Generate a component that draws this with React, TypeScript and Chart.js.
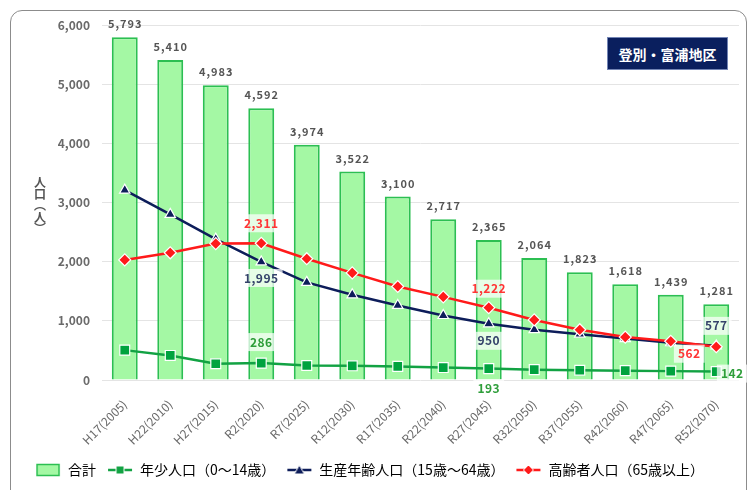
import React, { useEffect, useRef } from "react";
import { Chart, registerables } from "chart.js";

Chart.register(...registerables);

const categories = [
  "H17(2005)", "H22(2010)", "H27(2015)", "R2(2020)", "R7(2025)", "R12(2030)", "R17(2035)",
  "R22(2040)", "R27(2045)", "R32(2050)", "R37(2055)", "R42(2060)", "R47(2065)", "R52(2070)",
];
const totalPop = [5793, 5410, 4983, 4592, 3974, 3522, 3100, 2717, 2365, 2064, 1823, 1618, 1439, 1281];
const youngPop = [505, 415, 275, 286, 245, 240, 230, 210, 193, 175, 165, 158, 150, 142];
const workingPop = [3210, 2800, 2380, 1995, 1650, 1440, 1260, 1090, 950, 850, 775, 700, 630, 577];
const elderlyPop = [2030, 2150, 2305, 2311, 2050, 1810, 1580, 1405, 1222, 1015, 850, 725, 655, 562];
const yTicks = [0, 1000, 2000, 3000, 4000, 5000, 6000];

const seriesNames = ["合計", "年少人口（0～14歳）", "生産年齢人口（15歳～64歳）", "高齢者人口（65歳以上）"];
const regionTitle = "登別・富浦地区";
const yTitleChars = ["人", "口", "︵", "人", "︶"];

// which point values get a highlighted label (dataset index, category index, placement)
const highlightLabels = [
  { ds: 3, idx: 3, dx: 0, dy: -20 },
  { ds: 2, idx: 3, dx: 0, dy: 16 },
  { ds: 1, idx: 3, dx: 0, dy: -21 },
  { ds: 3, idx: 8, dx: 0, dy: -19 },
  { ds: 2, idx: 8, dx: 0, dy: 17 },
  { ds: 1, idx: 8, dx: 0, dy: 20 },
  { ds: 2, idx: 13, dx: 0, dy: -20 },
  { ds: 3, idx: 13, dx: -27, dy: 7 },
  { ds: 1, idx: 13, dx: 16, dy: 2 },
];

const FONT = "'Noto Sans CJK JP', 'Noto Sans', sans-serif";
const BAR_FILL = "#a4f8a4";
const BAR_BORDER = "#2cbf52";
const GREEN = "#12a243";
const NAVY = "#0d1d5a";
const RED = "#ff1a1a";
const LABEL_COLORS = ["#555555", "#2e9e3a", "#34426a", "#ff3535"];

const fmt = (v: number) => v.toLocaleString("en-US");

function makeSymbol(kind: string, color: string): HTMLCanvasElement {
  const c = document.createElement("canvas");
  c.width = 26;
  c.height = 14;
  const g = c.getContext("2d")!;
  if (kind === "bar") {
    g.fillStyle = BAR_FILL;
    g.strokeStyle = BAR_BORDER;
    g.lineWidth = 1.5;
    g.fillRect(2, 1.5, 22, 11);
    g.strokeRect(2, 1.5, 22, 11);
    return c;
  }
  g.strokeStyle = color;
  g.lineWidth = 2.5;
  g.beginPath();
  g.moveTo(1, 7);
  g.lineTo(25, 7);
  g.stroke();
  g.fillStyle = color;
  g.strokeStyle = "#fff";
  g.lineWidth = 1;
  g.beginPath();
  if (kind === "rect") {
    g.rect(9, 3, 8, 8);
  } else if (kind === "triangle") {
    g.moveTo(13, 2);
    g.lineTo(18, 11);
    g.lineTo(8, 11);
    g.closePath();
  } else {
    g.moveTo(13, 2);
    g.lineTo(18, 7);
    g.lineTo(13, 12);
    g.lineTo(8, 7);
    g.closePath();
  }
  g.fill();
  g.stroke();
  return c;
}

const valueLabelPlugin = {
  id: "valueLabels",
  afterDatasetsDraw(chart: any) {
    const ctx = chart.ctx as CanvasRenderingContext2D;
    ctx.save();
    ctx.textAlign = "center";
    ctx.textBaseline = "middle";
    // totals above bars
    ctx.font = `bold 11px ${FONT}`;
    (ctx as any).letterSpacing = "1px";
    ctx.fillStyle = LABEL_COLORS[0];
    chart.getDatasetMeta(0).data.forEach((bar: any, i: number) => {
      const p = bar.getProps(["x", "y"], true);
      ctx.fillText(fmt(totalPop[i]), p.x + 0.5, p.y - 13);
    });
    // highlighted point labels
    ctx.font = `bold 12px ${FONT}`;
    (ctx as any).letterSpacing = "0.5px";
    highlightLabels.forEach((h) => {
      const el = chart.getDatasetMeta(h.ds).data[h.idx];
      const p = el.getProps(["x", "y"], true);
      const v = chart.data.datasets[h.ds].data[h.idx] as number;
      const t = fmt(v);
      const w = ctx.measureText(t).width + 8;
      const x = p.x + h.dx;
      const y = p.y + h.dy;
      ctx.fillStyle = "rgba(255,255,255,0.72)";
      ctx.fillRect(x - w / 2, y - 9, w, 18);
      ctx.fillStyle = LABEL_COLORS[h.ds];
      ctx.fillText(t, x, y);
    });
    ctx.restore();
  },
  afterDraw(chart: any) {
    const ctx = chart.ctx as CanvasRenderingContext2D;
    ctx.save();
    ctx.font = `bold 12px ${FONT}`;
    ctx.fillStyle = "#555";
    ctx.textAlign = "center";
    ctx.textBaseline = "middle";
    const yPos = [182, 194, 205, 217, 228];
    yTitleChars.forEach((ch, i) => ctx.fillText(ch, 40, yPos[i]));
    ctx.restore();
  },
};

export default function App() {
  const ref = useRef<HTMLCanvasElement | null>(null);

  useEffect(() => {
    if (!ref.current) return;
    const symbols = [
      makeSymbol("bar", BAR_BORDER),
      makeSymbol("rect", GREEN),
      makeSymbol("triangle", NAVY),
      makeSymbol("diamond", RED),
    ];
    const chart = new Chart(ref.current, {
      type: "bar",
      data: {
        labels: categories,
        datasets: [
          {
            type: "bar",
            label: seriesNames[0],
            data: totalPop,
            backgroundColor: BAR_FILL,
            borderColor: BAR_BORDER,
            borderWidth: 2,
            barPercentage: 0.57,
            categoryPercentage: 1,
            order: 3,
          },
          {
            type: "line",
            label: seriesNames[1],
            data: youngPop,
            borderColor: GREEN,
            backgroundColor: GREEN,
            borderWidth: 2.5,
            pointStyle: "rect",
            pointRadius: 7,
            pointBorderColor: "#fff",
            pointBorderWidth: 1.2,
            pointBackgroundColor: "#00a33e",
            tension: 0,
            order: 2,
          },
          {
            type: "line",
            label: seriesNames[2],
            data: workingPop,
            borderColor: NAVY,
            backgroundColor: NAVY,
            borderWidth: 2.5,
            pointStyle: "triangle",
            pointRadius: 6,
            pointBorderColor: "#fff",
            pointBorderWidth: 1.2,
            pointBackgroundColor: NAVY,
            tension: 0,
            order: 1,
          },
          {
            type: "line",
            label: seriesNames[3],
            data: elderlyPop,
            borderColor: RED,
            backgroundColor: RED,
            borderWidth: 2.5,
            pointStyle: "rectRot",
            pointRadius: 6,
            pointBorderColor: "#fff",
            pointBorderWidth: 1.2,
            pointBackgroundColor: RED,
            tension: 0,
            order: 0,
          },
        ],
      },
      options: {
        responsive: false,
        animation: false,
        layout: { padding: { top: 25, right: 9, left: 0, bottom: 3 } },
        scales: {
          x: {
            offset: true,
            grid: { display: false },
            border: { display: false },
            afterFit: (s: any) => {
              s.height = 72;
            },
            ticks: {
              autoSkip: false,
              maxRotation: 45,
              minRotation: 45,
              padding: 9,
              color: "#6a6a6a",
              font: { family: FONT, size: 12 },
            },
          },
          y: {
            min: 0,
            max: 6000,
            afterFit: (s: any) => {
              s.width = 102;
            },
            afterBuildTicks: (s: any) => {
              s.ticks = yTicks.map((v) => ({ value: v }));
            },
            grid: { color: "#e4e4e4", drawTicks: false, lineWidth: 1 },
            border: { display: false },
            ticks: {
              padding: 12,
              color: "#6a6a6a",
              font: { family: FONT, size: 12, weight: "bold" },
              callback: (v: any) => fmt(Number(v)),
            },
          },
        },
        plugins: {
          tooltip: { enabled: false },
          legend: {
            position: "bottom",
            labels: {
              usePointStyle: true,
              pointStyleWidth: 26,
              padding: 11,
              color: "#333",
              font: { family: FONT, size: 14 },
              generateLabels: () =>
                seriesNames.map((name, i) => ({
                  text: name,
                  pointStyle: symbols[i],
                  fillStyle: "transparent",
                  strokeStyle: "transparent",
                  lineWidth: 0,
                  hidden: false,
                  datasetIndex: i,
                })),
            },
          },
        },
      },
      plugins: [valueLabelPlugin],
    } as any);
    return () => chart.destroy();
  }, []);

  return (
    <div
      style={{
        position: "fixed",
        left: 0,
        top: 0,
        width: 748,
        height: 490,
        background: "#fff",
        overflow: "hidden",
      }}
    >
      <div
        style={{
          position: "absolute",
          left: 10,
          top: 10,
          width: 737,
          height: 520,
          border: "1.5px solid #8c8c8c",
          borderRadius: 12,
          boxSizing: "border-box",
        }}
      />
      <canvas
        ref={ref}
        width={748}
        height={490}
        style={{ position: "absolute", left: 0, top: 0, width: 748, height: 490 }}
      />
      <div
        style={{
          position: "absolute",
          left: 607,
          top: 37,
          width: 121,
          height: 33,
          boxSizing: "border-box",
          background: "#0a1f5e",
          border: "1px solid #7385b5",
          color: "#fff",
          fontFamily: FONT,
          fontWeight: "bold",
          fontSize: 14,
          display: "flex",
          alignItems: "center",
          justifyContent: "center",
        }}
      >
        {regionTitle}
      </div>
    </div>
  );
}
